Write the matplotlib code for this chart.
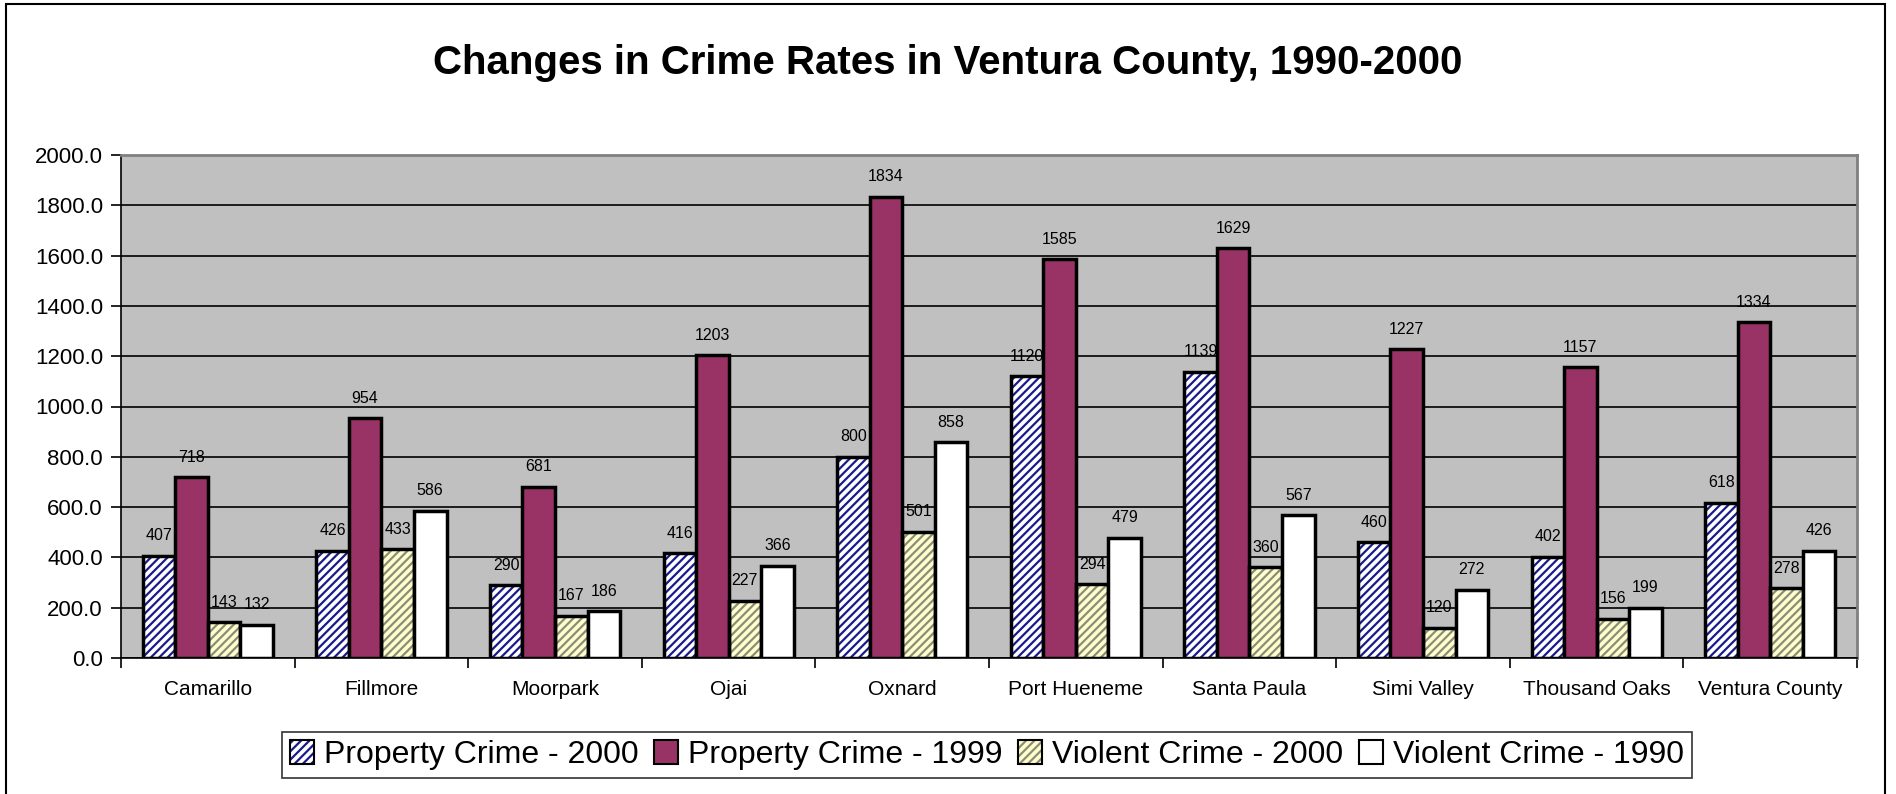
import matplotlib.pyplot as plt
import numpy as np
from matplotlib.patches import Patch, Rectangle
from matplotlib.legend_handler import HandlerTuple

plt.rcParams['font.family'] = ['Liberation Sans', 'DejaVu Sans']
plt.rcParams['hatch.linewidth'] = 1.6

# Data
cities = ['Camarillo', 'Fillmore', 'Moorpark', 'Ojai', 'Oxnard', 'Port Hueneme',
          'Santa Paula', 'Simi Valley', 'Thousand Oaks', 'Ventura County']
property_2000 = [407, 426, 290, 416, 800, 1120, 1139, 460, 402, 618]
property_1999 = [718, 954, 681, 1203, 1834, 1585, 1629, 1227, 1157, 1334]
violent_2000 = [143, 433, 167, 227, 501, 294, 360, 120, 156, 278]
violent_1990 = [132, 586, 186, 366, 858, 479, 567, 272, 199, 426]
y_ticks = [0, 200, 400, 600, 800, 1000, 1200, 1400, 1600, 1800, 2000]

series = [
    ('Property Crime - 2000', property_2000, 'white', '#1a1a8c', '////'),
    ('Property Crime - 1999', property_1999, '#993366', None, None),
    ('Violent Crime - 2000', violent_2000, '#ffffcc', '#8c8c7a', '////'),
    ('Violent Crime - 1990', violent_1990, 'white', None, None),
]

fig = plt.figure(figsize=(18.96, 7.94), dpi=100)
ax = fig.add_axes([121 / 1896, 1 - 658 / 794, (1857 - 121) / 1896, (658 - 155) / 794])
ax.set_facecolor('#c0c0c0')

x = np.arange(len(cities))
w = 0.1875
handles = []
for i, (name, vals, fc, hc, hatch) in enumerate(series):
    pos = x + (i - 1.5) * w
    if hatch:
        ax.bar(pos, vals, w, color=fc, edgecolor=hc, hatch=hatch, linewidth=0, zorder=3)
        ax.bar(pos, vals, w, fill=False, edgecolor='black', linewidth=2.5, zorder=4)
        h = (Patch(facecolor=fc, edgecolor=hc, hatch='////', linewidth=0),
             Patch(fill=False, edgecolor='black', linewidth=1.5))
    else:
        ax.bar(pos, vals, w, color=fc, edgecolor='black', linewidth=2.5, zorder=4)
        h = Patch(facecolor=fc, edgecolor='black', linewidth=1.5)
    handles.append(h)
    for p, v in zip(pos, vals):
        ax.annotate(str(v), (p, v), xytext=(0, 9), textcoords='offset points',
                    ha='center', va='bottom', fontsize=11.5)

ax.set_ylim(0, 2000)
ax.set_xlim(-0.5, len(cities) - 0.5)
ax.set_yticks(y_ticks)
ax.set_yticklabels([f'{t:.1f}' for t in y_ticks], fontsize=16)
ax.yaxis.grid(True, color='black', linewidth=1.2, zorder=1)
ax.set_axisbelow(True)
ax.set_xticks(x)
ax.set_xticklabels(cities, fontsize=15)
ax.set_xticks(np.arange(len(cities) + 1) - 0.5, minor=True)
ax.tick_params(axis='x', which='major', length=0, pad=16)
ax.tick_params(axis='x', which='minor', length=7, width=1.2, direction='out')
ax.tick_params(axis='y', length=7, width=1.2, direction='out', pad=6)
for s in ['top', 'right']:
    ax.spines[s].set_color('#808080')
    ax.spines[s].set_linewidth(2)
for s in ['left', 'bottom']:
    ax.spines[s].set_color('black')
    ax.spines[s].set_linewidth(1.2)

fig.suptitle('Changes in Crime Rates in Ventura County, 1990-2000', y=1 - 63 / 794,
             va='center', fontsize=29, fontweight='bold')

leg = fig.legend(handles, [s[0] for s in series], loc='center',
                 bbox_to_anchor=((287 + 1687) / 2 / 1896, 1 - 755 / 794), ncol=4,
                 fontsize=23, frameon=True, fancybox=False, edgecolor='black',
                 handlelength=0.75, handleheight=0.75, handletextpad=0.3,
                 columnspacing=0.5, borderpad=0.25,
                 handler_map={tuple: HandlerTuple(ndivide=1, pad=0)})
leg.get_frame().set_linewidth(1.2)

fig.patches.append(Rectangle((6 / 1896, -0.01), 1879 / 1896, 1 - 4 / 794 + 0.01,
                             transform=fig.transFigure, fill=False,
                             edgecolor='black', linewidth=1.5))

fig.savefig('out.png', dpi=100)
